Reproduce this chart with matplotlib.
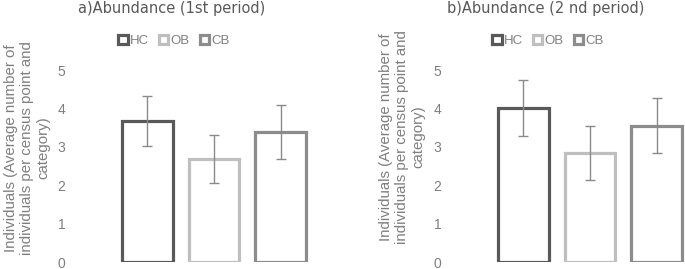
import matplotlib.pyplot as plt
from matplotlib.patches import Patch

plt.rcParams['font.family'] = ['Liberation Sans', 'DejaVu Sans']

categories = ['HC', 'OB', 'CB']
colors = ['#595959', '#bfbfbf', '#8c8c8c']

abund_1st = [3.67, 2.68, 3.39]
err_1st = [0.64, 0.62, 0.70]
abund_2nd = [4.01, 2.84, 3.55]
err_2nd = [0.73, 0.70, 0.71]

titles = ['a)Abundance (1st period)', 'b)Abundance (2 nd period)']
ylabel = 'Individuals (Average number of\nindividuals per census point and\ncategory)'
yticks = [0, 1, 2, 3, 4, 5]

text_col = '#7f7f7f'
W, H = 685, 269
fig = plt.figure(figsize=(W / 100, H / 100), dpi=100)


def px_axes(left, bottom_from_top, width, height):
    return fig.add_axes([left / W, (H - bottom_from_top) / H, width / W, height / H])


panels = [
    dict(vals=abund_1st, errs=err_1st, left=107, title_x=172, leg_x=174, lab_x=27, lab_y=148),
    dict(vals=abund_2nd, errs=err_2nd, left=483, title_x=546, leg_x=548, lab_x=402, lab_y=137),
]

for p, title in zip(panels, titles):
    ax = px_axes(p['left'], 262, 214, 192)
    x = range(len(categories))
    ax.bar(x, p['vals'], width=0.76, facecolor='white', edgecolor=colors,
           linewidth=2.3, zorder=2)
    ax.errorbar(x, p['vals'], yerr=p['errs'], fmt='none', ecolor='#8a8a8a',
                elinewidth=1.0, capsize=3.5, capthick=1.0, zorder=3)
    ax.set_xlim(-0.6, 2.6)
    ax.set_ylim(0, 5)
    ax.set_yticks(yticks)
    ax.set_xticks([])
    ax.tick_params(axis='y', length=0, pad=30, labelsize=10, labelcolor=text_col)
    for s in ax.spines.values():
        s.set_visible(False)
    ax.patch.set_visible(False)

    fig.text(p['title_x'] / W, (H - 9) / H, title, ha='center', va='center',
             fontsize=10.5, color='#595959', family='DejaVu Sans')
    fig.text(p['lab_x'] / W, (H - p['lab_y']) / H, ylabel, rotation=90,
             ha='center', va='center', fontsize=10.8, color=text_col,
             multialignment='center', linespacing=1.22)
    handles = [Patch(facecolor='white', edgecolor=c, linewidth=2.3) for c in colors]
    fig.legend(handles, categories, loc='center', bbox_to_anchor=(p['leg_x'] / W, (H - 41) / H),
               ncol=3, frameon=False, fontsize=9.5, labelcolor=text_col,
               handlelength=0.7, handleheight=0.7, handletextpad=0.15,
               columnspacing=0.8)

fig.savefig('out.png', dpi=100)
